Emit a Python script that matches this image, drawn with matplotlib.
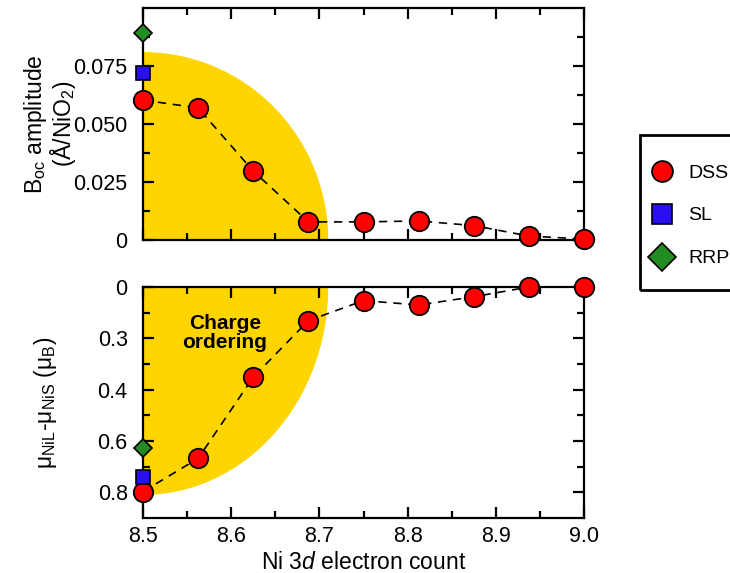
import numpy as np
import matplotlib
matplotlib.use('Agg')
import matplotlib.pyplot as plt
from matplotlib.lines import Line2D
from matplotlib.patches import Ellipse, Rectangle

plt.rcParams['font.family'] = ['Liberation Sans', 'DejaVu Sans']
plt.rcParams['mathtext.fontset'] = 'custom'
plt.rcParams['mathtext.rm'] = 'Liberation Sans'
plt.rcParams['mathtext.it'] = 'Liberation Sans:italic'
plt.rcParams['mathtext.bf'] = 'Liberation Sans:bold'
plt.rcParams['font.size'] = 15

# data
n_elec = [8.5, 8.5625, 8.625, 8.6875, 8.75, 8.8125, 8.875, 8.9375, 9.0]
boc_dss = [0.0603, 0.0569, 0.0297, 0.0078, 0.0078, 0.0082, 0.0062, 0.0017, 0.0004]
mu_dss = [0.797, 0.668, 0.351, 0.131, 0.053, 0.070, 0.038, 0.0, 0.0]
x_ref = [8.5]
boc_sl = [0.072]
boc_rrp = [0.0892]
mu_sl = [0.742]
mu_rrp = [0.629]

x_ticks = [8.5, 8.6, 8.7, 8.8, 8.9, 9.0]
x_ticklabels = ['8.5', '8.6', '8.7', '8.8', '8.9', '9.0']
top_ticks = [0, 0.025, 0.05, 0.075]
top_ticklabels = ['0', '0.025', '0.050', '0.075']
bot_ticks = [0, 0.2, 0.4, 0.6, 0.8]
bot_ticklabels = ['0', '0.3', '0.4', '0.6', '0.8']

gold = '#FFD500'
red = '#FF0000'
blue = '#2A10F0'
green = '#228B22'

fig = plt.figure(figsize=(7.3, 5.73), dpi=100)
ax1 = fig.add_axes([0.1959, 0.5812, 0.6041, 0.4049])
ax2 = fig.add_axes([0.1959, 0.0960, 0.6041, 0.4031])


def style(ax):
    for s in ax.spines.values():
        s.set_linewidth(1.6)
        s.set_zorder(4)
    ax.tick_params(which='both', direction='in', top=True, right=True, width=1.6)
    ax.tick_params(which='major', length=8, labelsize=15.5, pad=6)
    ax.tick_params(axis='y', which='major', pad=11)
    ax.tick_params(which='minor', length=5)
    ax.set_xlim(8.5, 9.0)
    ax.set_xticks(x_ticks)
    ax.set_xticks(np.arange(8.55, 9.0, 0.1), minor=True)


dash = dict(color='black', linestyle=(0, (5, 4)), linewidth=1.2, zorder=5)
dss_m = dict(marker='o', markersize=14, markerfacecolor=red, markeredgecolor='black',
             markeredgewidth=1.3, clip_on=False)
sl_m = dict(marker='s', markersize=10.5, markerfacecolor=blue, markeredgecolor='black',
            markeredgewidth=1.2, linestyle='none', clip_on=False, zorder=6)
rrp_m = dict(marker='D', markersize=9.5, markerfacecolor=green, markeredgecolor='black',
             markeredgewidth=1.2, linestyle='none', clip_on=False, zorder=6)

# top panel
style(ax1)
ax1.add_patch(Ellipse((8.5, 0), 0.42, 0.162, facecolor=gold, edgecolor='none', zorder=0))
ax1.plot(n_elec, boc_dss, **dash, **dss_m)
ax1.plot(x_ref, boc_sl, **sl_m)
ax1.plot(x_ref, boc_rrp, **rrp_m)
ax1.set_ylim(0, 0.1)
ax1.set_yticks(top_ticks)
ax1.set_yticklabels(top_ticklabels)
ax1.set_yticks(np.arange(0.0125, 0.1, 0.025), minor=True)
ax1.set_xticklabels([])
ax1.set_ylabel('B$_{\\rm oc}$ amplitude\n(Å/NiO$_2$)', fontsize=16.5, labelpad=-3,
               linespacing=0.95)

# bottom panel
style(ax2)
ax2.add_patch(Ellipse((8.5, 0), 0.42, 1.62, facecolor=gold, edgecolor='none', zorder=0))
ax2.plot(n_elec, mu_dss, **dash, **dss_m)
ax2.plot(x_ref, mu_sl, **sl_m)
ax2.plot(x_ref, mu_rrp, **rrp_m)
ax2.set_ylim(0.9, 0)
ax2.set_yticks(bot_ticks)
ax2.set_yticklabels(bot_ticklabels)
ax2.set_yticks(np.arange(0.1, 0.9, 0.2), minor=True)
ax2.set_xticklabels(x_ticklabels)
ax2.set_ylabel('μ$_{\\rm NiL}$-μ$_{\\rm NiS}$ (μ$_{\\rm B}$)', fontsize=16.5, labelpad=28)
ax2.set_xlabel('Ni $\\mathit{3d}$ electron count', fontsize=16.5, labelpad=3)
ax2.text(8.593, 0.18, 'Charge\nordering', fontsize=15, fontweight='bold',
         ha='center', va='center', linespacing=1.0, zorder=3)

# legend box
fig.patches.append(Rectangle((640 / 730, 1 - 290 / 573), 0.2, 155 / 573, fill=False,
                             edgecolor='black', linewidth=2, transform=fig.transFigure))
handles = [
    Line2D([], [], marker='o', markersize=15, markerfacecolor=red, markeredgecolor='black',
           markeredgewidth=1.3, linestyle='none'),
    Line2D([], [], marker='s', markersize=14, markerfacecolor=blue, markeredgecolor='black',
           markeredgewidth=1.2, linestyle='none'),
    Line2D([], [], marker='D', markersize=14, markerfacecolor=green, markeredgecolor='black',
           markeredgewidth=1.2, linestyle='none'),
]
fig.legend(handles, ['DSS', 'SL', 'RRP'], loc='upper left',
           bbox_to_anchor=(646.5 / 730, 1 - 164 / 573), borderaxespad=0, borderpad=0,
           frameon=False, fontsize=14, labelspacing=1.3,
           handletextpad=0.55, handlelength=1.6)

fig.savefig('out.png', dpi=100)
